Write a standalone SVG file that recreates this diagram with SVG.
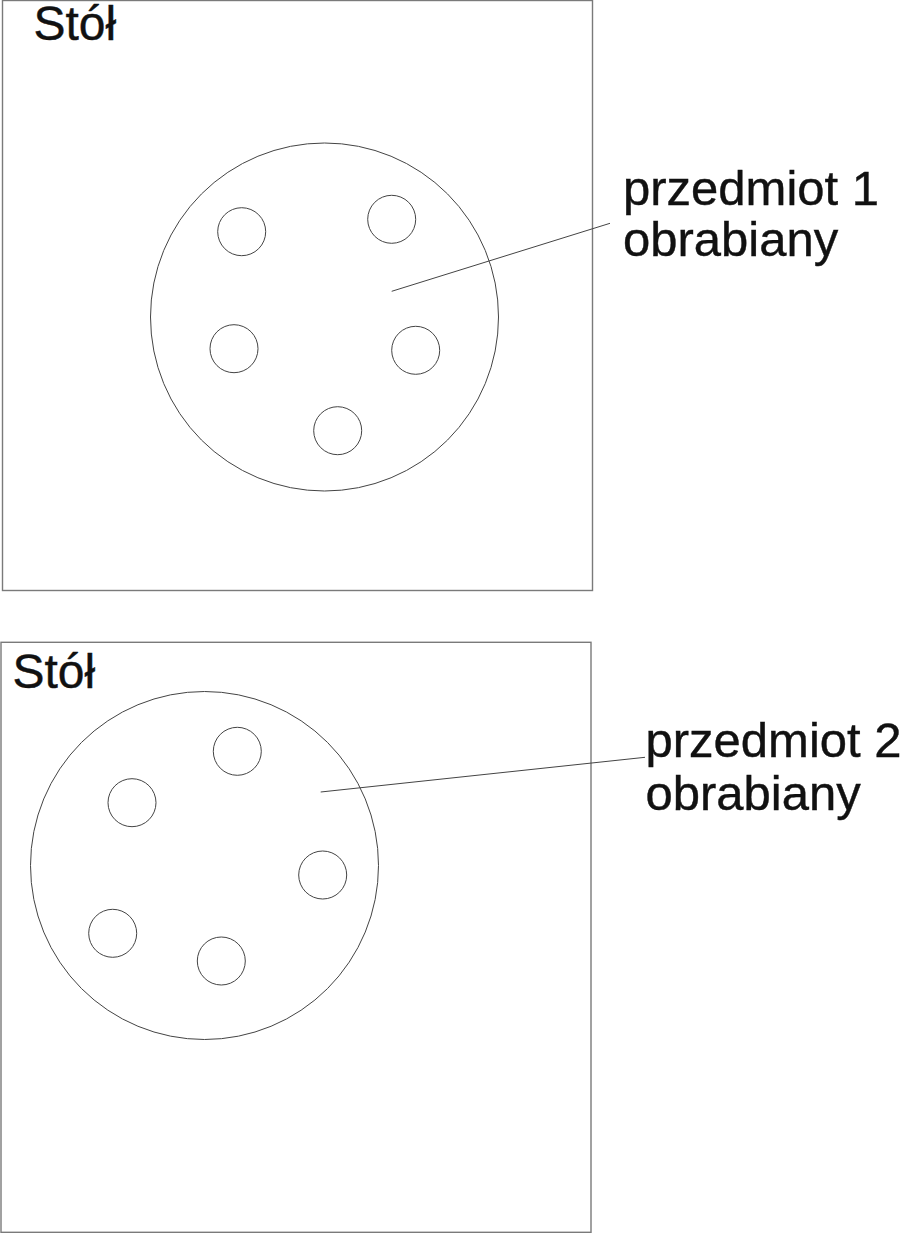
<svg xmlns="http://www.w3.org/2000/svg" width="904" height="1233" viewBox="0 0 904 1233">
<style>
.frame{fill:none;stroke:#7a7a7a;stroke-width:1.4}
.disc{fill:none;stroke:#444;stroke-width:1}
.hole{fill:none;stroke:#444;stroke-width:1}
.lead{fill:none;stroke:#444;stroke-width:1}
.lbl{font-family:"Liberation Sans",Arial,sans-serif;font-size:49px;fill:#111;stroke:#111;stroke-width:0.4}
.ttl{font-family:"Liberation Sans",Arial,sans-serif;font-size:48px;fill:#111;stroke:#111;stroke-width:0.4}
</style>
<rect x="0" y="0" width="904" height="1233" fill="#fff"/>
<g id="table1">
<rect class="frame" x="2.5" y="0.5" width="590" height="590"/>
<text class="ttl" x="33.5" y="40">Stół</text>
</g>
<g id="workpiece1">
<circle class="disc" cx="324.5" cy="317" r="174"/>
<circle class="hole" cx="241.7" cy="231.7" r="24"/>
<circle class="hole" cx="391.7" cy="219.3" r="24"/>
<circle class="hole" cx="234" cy="348.7" r="24"/>
<circle class="hole" cx="415.7" cy="350.3" r="24"/>
<circle class="hole" cx="337.7" cy="430.7" r="24"/>
</g>
<g id="label1">
<text class="lbl" x="623" y="205">przedmiot 1</text>
<text class="lbl" x="623" y="256">obrabiany</text>
</g>
<g id="table2">
<rect class="frame" x="1" y="642.3" width="590" height="590"/>
<text class="ttl" x="12.5" y="688.3">Stół</text>
</g>
<g id="workpiece2">
<circle class="disc" cx="204.5" cy="865.5" r="174"/>
<circle class="hole" cx="237.3" cy="751.3" r="24"/>
<circle class="hole" cx="132" cy="802.7" r="24"/>
<circle class="hole" cx="322.7" cy="875" r="24"/>
<circle class="hole" cx="112.7" cy="933.3" r="24"/>
<circle class="hole" cx="221.3" cy="961" r="24"/>
</g>
<g id="label2">
<text class="lbl" x="645.5" y="757">przedmiot 2</text>
<text class="lbl" x="645.5" y="809.5">obrabiany</text>
</g>
<g id="connectors">
<line class="lead" x1="391.7" y1="291.3" x2="610" y2="223.3"/>
<line class="lead" x1="320.7" y1="792" x2="645" y2="757.3"/>
</g>
</svg>
